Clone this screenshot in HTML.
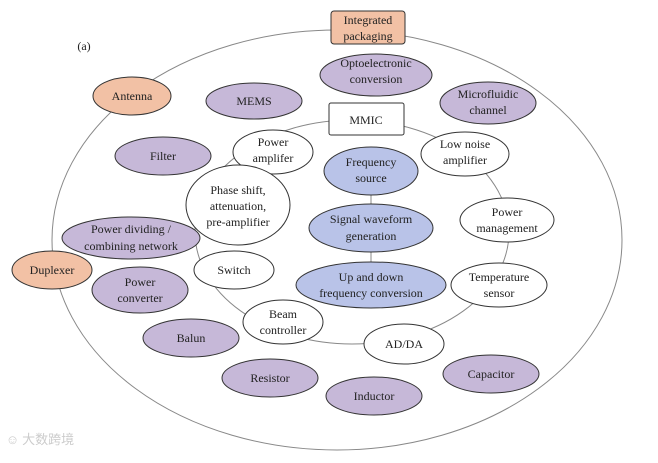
<!DOCTYPE html>
<html><head><meta charset="utf-8"><style>
body{margin:0;background:#fff}
svg text{font-family:"Liberation Serif",serif;font-size:12px;fill:#222;text-anchor:middle}
</style></head><body>
<svg width="658" height="458" viewBox="0 0 658 458" xmlns="http://www.w3.org/2000/svg">
<rect width="658" height="458" fill="#fff"/>
<ellipse cx="337" cy="240" rx="285" ry="210" fill="none" stroke="#888" stroke-width="1"/>
<ellipse cx="352" cy="232" rx="157" ry="112" fill="none" stroke="#888" stroke-width="1"/>
<line x1="371" y1="190" x2="371" y2="210" stroke="#888"/>
<line x1="371" y1="250" x2="371" y2="265" stroke="#888"/>
<g stroke="#333" stroke-width="1">
<rect x="331" y="11" width="74" height="33" rx="3" fill="#f2c1a5"/>
<rect x="329" y="103" width="75" height="32" rx="2" fill="#fff"/>
<g fill="#c6b8d8">
<ellipse cx="376" cy="75" rx="56" ry="21"/>
<ellipse cx="254" cy="101" rx="48" ry="18"/>
<ellipse cx="488" cy="103" rx="48" ry="21"/>
<ellipse cx="163" cy="156" rx="48" ry="19"/>
<ellipse cx="131" cy="238" rx="69" ry="21"/>
<ellipse cx="140" cy="290" rx="48" ry="23"/>
<ellipse cx="191" cy="338" rx="48" ry="19"/>
<ellipse cx="270" cy="378" rx="48" ry="19"/>
<ellipse cx="491" cy="374" rx="48" ry="19"/>
<ellipse cx="374" cy="396" rx="48" ry="19"/>
</g>
<g fill="#f2c1a5">
<ellipse cx="132" cy="96" rx="39" ry="19"/>
<ellipse cx="52" cy="270" rx="40" ry="19"/>
</g>
<g fill="#b9c3e8">
<ellipse cx="371" cy="171" rx="47" ry="24"/>
<ellipse cx="371" cy="228" rx="62" ry="24"/>
<ellipse cx="371" cy="285" rx="75" ry="23"/>
</g>
<g fill="#fff">
<ellipse cx="273" cy="152" rx="40" ry="22"/>
<ellipse cx="465" cy="154" rx="44" ry="22"/>
<ellipse cx="238" cy="205" rx="52" ry="40"/>
<ellipse cx="507" cy="220" rx="47" ry="22"/>
<ellipse cx="234" cy="270" rx="40" ry="19"/>
<ellipse cx="499" cy="285" rx="48" ry="22"/>
<ellipse cx="283" cy="322" rx="40" ry="22"/>
<ellipse cx="404" cy="344" rx="40" ry="20"/>
</g>
</g>
<text x="84" y="50">(a)</text>
<text x="368" y="24">Integrated</text><text x="368" y="40">packaging</text>
<text x="376" y="67">Optoelectronic</text><text x="376" y="83">conversion</text>
<text x="132" y="100">Antenna</text>
<text x="254" y="105">MEMS</text>
<text x="488" y="98">Microfluidic</text><text x="488" y="114">channel</text>
<text x="366" y="124">MMIC</text>
<text x="273" y="146">Power</text><text x="273" y="162">amplifer</text>
<text x="465" y="148">Low noise</text><text x="465" y="164">amplifier</text>
<text x="163" y="160">Filter</text>
<text x="371" y="166">Frequency</text><text x="371" y="182">source</text>
<text x="238" y="194">Phase shift,</text><text x="238" y="210">attenuation,</text><text x="238" y="226">pre-amplifier</text>
<text x="371" y="223">Signal waveform</text><text x="371" y="240">generation</text>
<text x="507" y="216">Power</text><text x="507" y="232">management</text>
<text x="131" y="233">Power dividing  /</text><text x="131" y="250">combining network</text>
<text x="52" y="274">Duplexer</text>
<text x="234" y="274">Switch</text>
<text x="371" y="281">Up and down</text><text x="371" y="297">frequency conversion</text>
<text x="499" y="281">Temperature</text><text x="499" y="297">sensor</text>
<text x="140" y="286">Power</text><text x="140" y="302">converter</text>
<text x="283" y="318">Beam</text><text x="283" y="334">controller</text>
<text x="191" y="342">Balun</text>
<text x="404" y="348">AD/DA</text>
<text x="270" y="382">Resistor</text>
<text x="491" y="378">Capacitor</text>
<text x="374" y="400">Inductor</text>
<text x="40" y="444" style="fill:#ccc;font-size:13px;font-family:'Noto Sans CJK SC',sans-serif">☺ 大数跨境</text>
</svg>
</body></html>
